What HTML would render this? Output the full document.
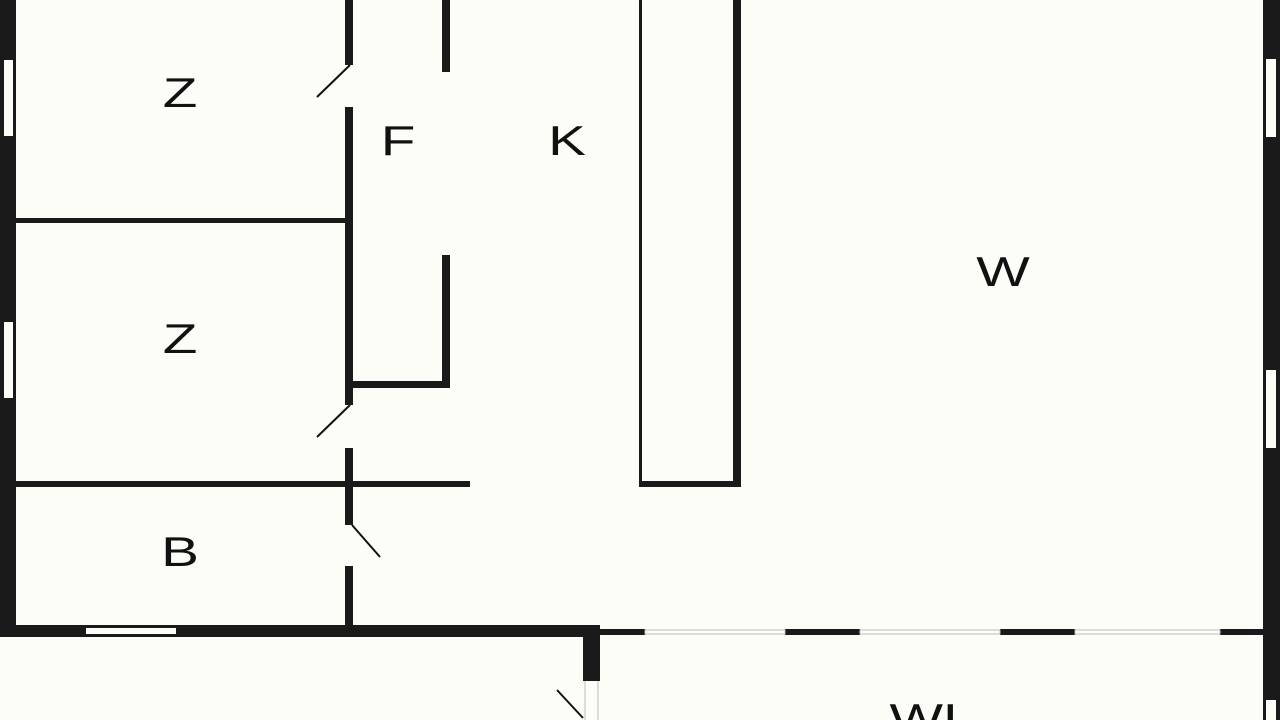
<!DOCTYPE html>
<html><head><meta charset="utf-8"><style>
html,body{margin:0;padding:0;background:#fdfdf8;}
svg{display:block}
text{font-family:"Liberation Sans",sans-serif;font-size:42px;fill:#111;text-anchor:middle}
</style></head><body>
<svg width="1280" height="720" viewBox="0 0 1280 720" xmlns="http://www.w3.org/2000/svg">
<rect width="1280" height="720" fill="#fdfdf8"/>
<g fill="#1a1a1a">
<rect x="0" y="0" width="16" height="637"/>
<rect x="1263" y="0" width="17" height="720"/>
<rect x="345" y="0" width="8" height="65"/>
<rect x="345" y="107" width="8" height="298"/>
<rect x="345" y="448" width="8" height="77"/>
<rect x="345" y="566" width="8" height="64"/>
<rect x="16" y="218" width="330" height="5"/>
<rect x="16" y="481" width="454" height="6"/>
<rect x="442" y="0" width="8" height="72"/>
<rect x="442" y="255" width="8" height="133"/>
<rect x="353" y="381" width="97" height="7"/>
<rect x="639" y="0" width="3" height="487"/>
<rect x="733" y="0" width="8" height="487"/>
<rect x="639" y="481" width="102" height="6"/>
<rect x="0" y="625" width="600" height="12"/>
<rect x="583" y="625" width="17" height="56"/>
<rect x="600" y="629" width="45" height="6"/>
<rect x="785" y="629" width="75" height="6"/>
<rect x="1000" y="629" width="75" height="6"/>
<rect x="1220" y="629" width="43" height="6"/>
</g>
<g fill="#fdfdf8">
<rect x="4" y="60" width="9" height="76"/>
<rect x="4" y="322" width="9" height="76"/>
<rect x="1266" y="59" width="10" height="78"/>
<rect x="1266" y="370" width="10" height="78"/>
<rect x="1266" y="700" width="10" height="20"/>
<rect x="86" y="628" width="90" height="6"/>
</g>
<g fill="none" stroke="#bbb" stroke-width="1">
<rect x="645" y="630" width="140" height="4"/>
<rect x="860" y="630" width="140" height="4"/>
<rect x="1075" y="630" width="145" height="4"/>
<line x1="585" y1="681" x2="585" y2="720"/>
<line x1="598" y1="681" x2="598" y2="720"/>
</g>
<g stroke="#111" stroke-width="2">
<line x1="350" y1="65" x2="317" y2="97"/>
<line x1="350" y1="405" x2="317" y2="437"/>
<line x1="352" y1="525" x2="380" y2="557"/>
<line x1="557" y1="690" x2="583" y2="718"/>
</g>
<text transform="translate(180,107) scale(1.35,1)">Z</text>
<text transform="translate(180,353) scale(1.35,1)">Z</text>
<text transform="translate(180,566) scale(1.35,1)">B</text>
<text transform="translate(398,155) scale(1.35,1)">F</text>
<text transform="translate(567,155) scale(1.35,1)">K</text>
<text transform="translate(1003,286) scale(1.35,1)">W</text>
<text transform="translate(932,733) scale(1.35,1)">WL</text>
</svg>
</body></html>
